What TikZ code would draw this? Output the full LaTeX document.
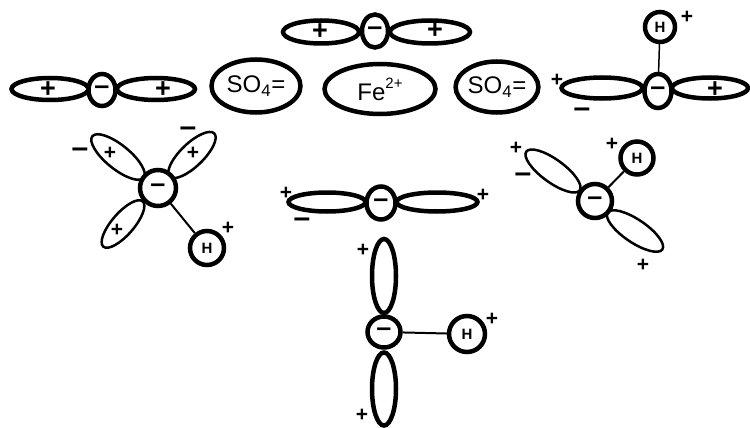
\documentclass[tikz,border=0pt]{standalone}
\usepackage{fontspec}
\setmainfont{Liberation Sans}
\usetikzlibrary{shapes.geometric}

\begin{document}
\begin{tikzpicture}[x=1pt,y=-1pt,
    lobe/.style={ellipse,draw,line width=4.5pt,inner sep=0pt},
    thinlobe/.style={ellipse,draw,line width=2.5pt,inner sep=0pt},
    core/.style={ellipse,draw,fill=white,line width=4.5pt,inner sep=0pt,
      font=\fontsize{27}{27}\selectfont\bfseries},
    hatom/.style={circle,draw,fill=white,line width=4.5pt,inner sep=0pt,
      minimum size=32pt,font=\fontsize{15}{15}\selectfont\bfseries},
    ion/.style={ellipse,draw,line width=4.5pt,inner sep=0pt,
      font=\fontsize{24}{24}\selectfont},
    bigsign/.style={inner sep=0pt,font=\fontsize{27}{27}\selectfont\bfseries},
    smallsign/.style={inner sep=0pt,font=\fontsize{21}{21}\selectfont\bfseries},
    negsign/.style={inner sep=0pt,font=\fontsize{30}{30}\selectfont\bfseries},
    bond/.style={line width=2pt}]

  \useasboundingbox (0,0) rectangle (750,428);

  % top chain
  \node[lobe,minimum width=76pt,minimum height=23pt] (1) at (321,32) {};
  \node[lobe,minimum width=80pt,minimum height=23pt] (2) at (430,32) {};
  \node[core,minimum width=26pt,minimum height=33pt] (3) at (375,31) {–};
  \node[bigsign] (4) at (320,32) {+};
  \node[bigsign] (5) at (435,31) {+};

  % second row
  \node[lobe,minimum width=77pt,minimum height=22pt] (6) at (50,89) {};
  \node[lobe,minimum width=78pt,minimum height=22pt] (7) at (156,89) {};
  \node[core,minimum width=27pt,minimum height=32pt] (8) at (102,90) {–};
  \node[bigsign] (9) at (48,90) {+};
  \node[bigsign] (10) at (163,90) {+};

  \node[ion,minimum width=89pt,minimum height=53pt] (11) at (256,86) {SO\textsubscript{4}=};
  \node[ion,minimum width=111pt,minimum height=50pt] (12) at (380,89)
    {Fe\raisebox{0.5em}{\fontsize{15}{15}\selectfont 2+}};
  \node[ion,minimum width=77pt,minimum height=51pt] (13) at (497,87) {SO\textsubscript{4}=};

  \node[lobe,minimum width=81pt,minimum height=21pt] (14) at (602,88) {};
  \node[lobe,minimum width=76pt,minimum height=21pt] (15) at (710,88) {};
  \node[core,minimum width=27pt,minimum height=34pt] (16) at (658,91) {–};
  \node[hatom,minimum size=30pt] (17) at (660,27) {H};
  \draw[line width=1.5pt] (16) -- (17);
  \node[bigsign] (18) at (715,90) {+};
  \node[smallsign] (19) at (687,17) {+};
  \node[smallsign] (20) at (557,80) {+};
  \node[negsign] (21) at (582,113) {–};

  % left cluster
  \node[thinlobe,minimum width=66pt,minimum height=24pt,rotate=141] (22) at (118,157) {};
  \node[thinlobe,minimum width=62pt,minimum height=23pt,rotate=44] (23) at (192,155) {};
  \node[thinlobe,minimum width=60pt,minimum height=22pt,rotate=49] (24) at (123,224) {};
  \node[core,minimum size=36pt] (25) at (158,188) {–};
  \node[hatom,minimum size=34pt] (26) at (207,248) {H};
  \draw[bond] (25) -- (26);
  \node[negsign] (27) at (80,153) {–};
  \node[smallsign] (28) at (110,153) {+};
  \node[negsign] (29) at (188,132) {–};
  \node[smallsign] (30) at (193,153) {+};
  \node[smallsign] (31) at (117,230) {+};
  \node[smallsign] (32) at (228,228) {+};

  % middle chain
  \node[lobe,minimum width=77pt,minimum height=19pt] (33) at (327,202) {};
  \node[lobe,minimum width=81pt,minimum height=19pt] (34) at (437,202) {};
  \node[core,minimum width=29pt,minimum height=33pt] (35) at (381,203) {–};
  \node[smallsign] (36) at (286,193) {+};
  \node[negsign] (37) at (302,223) {–};
  \node[smallsign] (38) at (483,195) {+};

  % right cluster
  \node[thinlobe,minimum width=66pt,minimum height=23pt,rotate=144] (39) at (553,171) {};
  \node[thinlobe,minimum width=66pt,minimum height=23pt,rotate=-34] (40) at (635,231) {};
  \node[core,minimum size=34pt] (41) at (595,201) {–};
  \node[hatom,minimum size=33pt] (42) at (637,158) {H};
  \draw[bond] (41) -- (42);
  \node[smallsign] (43) at (516,148) {+};
  \node[negsign] (44) at (523,178) {–};
  \node[smallsign] (45) at (612,144) {+};
  \node[smallsign] (46) at (643,265) {+};

  % bottom
  \node[lobe,minimum width=74pt,minimum height=24pt,rotate=90] (47) at (384,276) {};
  \node[lobe,minimum width=73pt,minimum height=24pt,rotate=90] (48) at (384,389) {};
  \node[core,minimum width=33pt,minimum height=31pt] (49) at (384,332) {–};
  \node[hatom,minimum width=36pt] (50) at (467,334) {H};
  \draw[bond] (49) -- (50);
  \node[smallsign] (51) at (363,250) {+};
  \node[smallsign] (52) at (362,415) {+};
  \node[smallsign] (53) at (492,319) {+};

\end{tikzpicture}
\end{document}
